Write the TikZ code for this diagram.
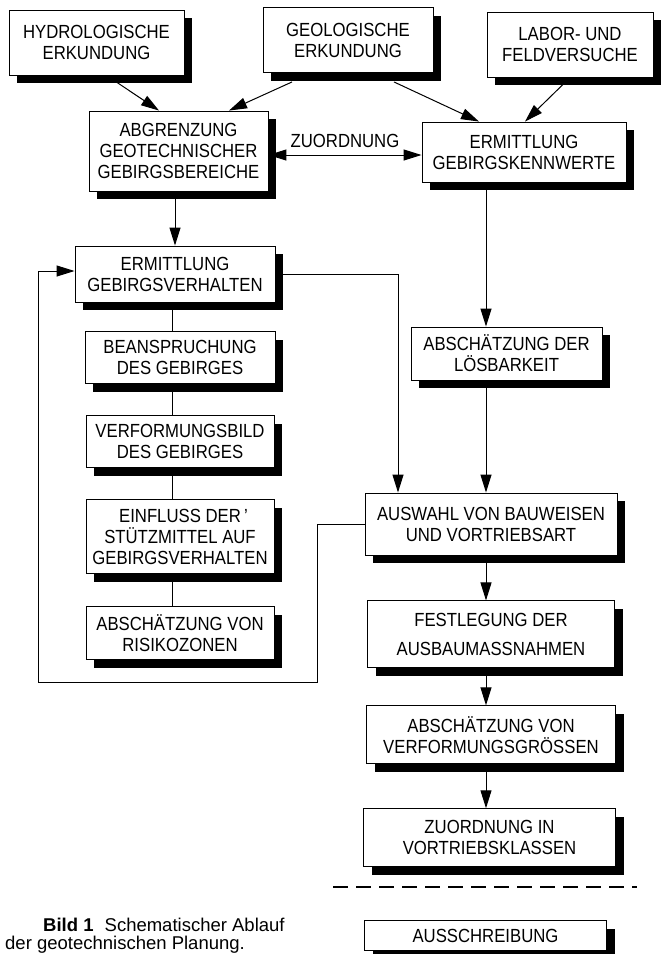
\documentclass[tikz,border=0pt]{standalone}
\usepackage{fontspec}
\setmainfont[FakeStretch=0.88]{Liberation Sans}
\newfontfamily\capfamily{Liberation Sans}
\usetikzlibrary{positioning}
\usetikzlibrary{arrows.meta}
\usetikzlibrary{shadows}
\newcommand{\boxfont}{\fontsize{19}{21}\selectfont}
\newcommand{\capfont}{\capfamily\fontsize{18.5}{20}\selectfont}
\tikzset{
    box/.style={
        draw,
        fill=white,
        line width=0.9pt,
        align=center,
        inner sep=0pt,
        font=\boxfont,
        drop shadow={shadow xshift=8pt,shadow yshift=-8pt,fill=black,opacity=1}},
    link/.style={
        draw,
        line width=1pt,
        -{Triangle[length=18pt,width=11pt]}},
    duo/.style={
        draw,
        line width=1pt,
        {Triangle[length=18pt,width=11pt]}-{Triangle[length=18pt,width=11pt]}},
    joint/.style={
        draw,
        line width=1pt},
    caption/.style={
        inner sep=0pt,
        font=\capfont}}

\begin{document}
\begin{tikzpicture}[x=1pt,y=-1pt]
        \useasboundingbox (0,0) rectangle (664,954);

        \coordinate (lcol) at (172,0);
        \coordinate (rcol) at (486,0);

        % top row
        \node[box,minimum width=175pt,minimum height=65pt] (hydro) at (96.5,42.5) {HYDROLOGISCHE\\ERKUNDUNG};
        \node[box,minimum width=170pt,minimum height=65pt] (geol) at (348,40) {GEOLOGISCHE\\ERKUNDUNG};
        \node[box,minimum width=166pt,minimum height=65pt] (labor) at (570,44.5) {LABOR- UND\\FELDVERSUCHE};

        \node[box,minimum width=179pt,minimum height=80pt] (abgr) at (178.5,151) {ABGRENZUNG\\GEOTECHNISCHER\\GEBIRGSBEREICHE};
        \node[box,minimum width=204pt,minimum height=60pt] (kenn) at (524,152) {ERMITTLUNG\\GEBIRGSKENNWERTE};

        % left column
        \node[box,minimum width=200pt,minimum height=56pt] (gebv) at (175,274) {ERMITTLUNG\\GEBIRGSVERHALTEN};
        \node[box,minimum width=190pt,minimum height=52pt,below=29pt of gebv,xshift=5pt] (bean) {BEANSPRUCHUNG\\DES GEBIRGES};
        \node[box,minimum width=188pt,minimum height=52pt,below=31pt of bean] (verf) {VERFORMUNGSBILD\\DES GEBIRGES};
        \node[box,minimum width=188pt,minimum height=74pt,below=31pt of verf] (einfl) {EINFLUSS DER\rlap{\,’}\\STÜTZMITTEL AUF\\GEBIRGSVERHALTEN};
        \node[box,minimum width=188pt,minimum height=53pt,below=32pt of einfl] (risiko) {ABSCHÄTZUNG VON\\RISIKOZONEN};

        % right column
        \node[box,minimum width=191pt,minimum height=53pt] (loesb) at (506.5,353.5) {ABSCHÄTZUNG DER\\LÖSBARKEIT};
        \node[box,minimum width=252pt,minimum height=62pt] (ausw) at (491,524) {AUSWAHL VON BAUWEISEN\\UND VORTRIEBSART};
        \node[box,minimum width=247pt,minimum height=67pt,below=45pt of ausw] (fest) {FESTLEGUNG DER\\[8pt]AUSBAUMASSNAHMEN};
        \node[box,minimum width=249pt,minimum height=58pt,below=37pt of fest] (verfg) {ABSCHÄTZUNG VON\\VERFORMUNGSGRÖSSEN};
        \node[box,minimum width=252pt,minimum height=58pt,below=44pt of verfg,xshift=-1.5pt] (zuord) {ZUORDNUNG IN\\VORTRIEBSKLASSEN};
        \node[box,minimum width=242pt,minimum height=30pt,below=53pt of zuord,xshift=-4pt] (aussch) {AUSSCHREIBUNG};

        % connectors
        \draw[link] ([xshift=20.5pt,yshift=-7pt]hydro.south) -- ([xshift=-19.5pt]abgr.north);
        \draw[link] ([xshift=-56pt,yshift=-9pt]geol.south) -- ([xshift=50.5pt]abgr.north);
        \draw[link] ([xshift=46pt,yshift=-9pt]geol.south) -- ([xshift=-45pt]kenn.north);
        \draw[link] ([xshift=-6pt,yshift=-6pt]labor.south) -- ([xshift=1pt]kenn.north);

        \draw[duo] ([yshift=-4pt]abgr.east) -- ([yshift=-4pt]abgr.east -| kenn.west)
            node[midway,above=3pt,font=\boxfont] {ZUORDNUNG};

        \draw[link] ([xshift=-3.5pt,yshift=-8pt]abgr.south) -- (gebv.north);

        \draw[joint] (gebv.south -| lcol) -- (bean.north -| lcol);
        \draw[joint] (bean.south -| lcol) -- (verf.north -| lcol);
        \draw[joint] (verf.south -| lcol) -- (einfl.north -| lcol);
        \draw[joint] (einfl.south -| lcol) -- (risiko.north -| lcol);

        \draw[link] ([yshift=-8pt]kenn.south -| rcol) -- (loesb.north -| rcol);
        \draw[link] ([yshift=-8pt]loesb.south -| rcol) -- (ausw.north -| rcol);
        \draw[link] (gebv.east) -| ([xshift=-93pt]ausw.north);
        \draw[link] ([yshift=-8pt]ausw.south -| rcol) -- (fest.north -| rcol);
        \draw[link] ([yshift=-8pt]fest.south -| rcol) -- (verfg.north -| rcol);
        \draw[link] ([yshift=-8pt]verfg.south -| rcol) -- (zuord.north -| rcol);

        % feedback loop
        \coordinate (fbr) at (317,682);
        \coordinate (fbl) at (38,682);
        \draw[link] (ausw.west) -| (fbr) -- (fbl) |- ([yshift=3pt]gebv.west);

        % separator
        \coordinate (sepl) at (333,887);
        \coordinate (sepr) at (637,887);
        \draw[line width=1.3pt,dash pattern=on 15pt off 8pt] (sepl) -- (sepr);

        % caption
        \node[caption,anchor=base west] (capa) at (43,931) {\textbf{Bild 1}\hspace{0.6em}Schematischer Ablauf};
        \node[caption,anchor=base west] (capb) at (5,949) {der geotechnischen Planung.};
\end{tikzpicture}
\end{document}
